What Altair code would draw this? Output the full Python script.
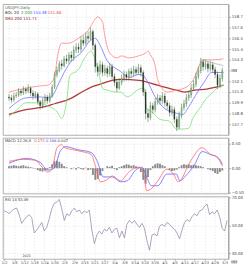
import altair as alt
import pandas as pd

# ---------------- data ----------------
closes = [150.4,150.2,150.6,150.7,151.1,150.9,151.3,151.1,151.4,150.9,
          150.6,150.8,150.0,149.6,150.1,150.5,150.1,150.6,151.5,152.8,
          153.2,153.9,153.7,154.4,154.2,154.8,154.5,155.3,155.6,155.4,
          156.3,156.0,156.7,156.5,157.2,155.8,153.6,153.1,153.8,153.0,
          153.4,152.9,153.6,152.6,152.0,151.4,152.0,152.4,152.8,152.5,
          153.1,152.9,153.3,153.0,153.5,153.0,151.0,148.8,148.4,149.6,
          149.2,150.0,150.4,150.1,150.6,149.9,149.6,148.9,149.2,148.2,
          147.4,148.6,149.4,149.8,150.4,150.7,151.4,151.8,152.6,153.2,
          154.1,153.6,153.9,153.4,153.8,153.3,152.8,151.7,152.4,153.2]
highs = [150.8,150.7,150.9,151.0,151.4,151.3,151.6,151.5,151.8,151.6,
         151.2,151.1,151.0,150.2,150.4,150.8,150.7,150.9,151.8,153.1,
         153.6,154.2,154.3,154.7,154.8,155.1,155.2,155.7,156.0,156.0,
         156.7,156.8,157.1,157.2,157.6,157.4,156.0,154.0,154.2,154.1,
         153.8,153.7,154.0,153.9,152.9,152.3,152.4,152.8,153.2,153.1,
         153.4,153.5,153.7,153.6,153.9,153.8,153.2,151.3,149.3,150.0,
         149.9,150.4,150.8,150.7,151.0,150.9,150.2,149.9,149.6,149.5,
         148.5,149.0,149.8,150.2,150.8,151.1,151.8,152.2,153.0,153.6,
         154.5,154.4,154.3,154.2,154.2,154.1,153.6,153.1,152.8,153.5]
lows = [150.1,149.9,150.0,150.4,150.5,150.6,150.7,150.8,150.9,150.6,
        150.2,150.3,149.7,149.2,149.3,149.8,149.8,149.9,150.4,151.3,
        152.5,153.0,153.3,153.5,153.9,153.9,154.1,154.2,155.0,155.0,
        155.1,155.7,155.8,156.1,156.3,155.3,153.0,152.6,152.8,152.6,
        152.7,152.5,152.6,152.3,151.6,151.0,151.2,151.7,152.1,152.2,
        152.2,152.5,152.6,152.7,152.8,152.6,150.6,148.2,147.9,148.1,
        148.8,148.9,149.7,149.7,149.8,149.5,149.2,148.5,148.6,147.8,
        147.0,147.2,148.3,149.1,149.5,150.1,150.4,151.1,151.5,152.3,
        152.9,153.2,153.3,153.0,153.1,153.0,152.4,151.3,151.4,152.1]
first_open = 150.5

upper_x = [0,12,16,19,20,22,25,27,30,33,34,36,37,39,40,42,45,47,50,54,57,58,59,61,62,66,70,74,77,80,81,85,89.5]
upper_v = [151.0,151.6,151.7,152.5,154.3,156.0,156.0,156.2,156.7,157.3,157.7,158.5,158.7,158.2,156.7,155.0,154.5,154.7,154.5,154.7,155.0,155.2,154.8,153.7,152.3,151.0,151.2,151.5,152.3,154.0,154.3,154.3,154.4]
mid_x = [0,7,13,17,21,23,26.5,30,34,36,38,41,44,46,50.5,54,56,57.5,61,65,69,72.5,75,78.7,81.4,84.5,89.5]
mid_v = [149.3,150.4,150.5,150.4,152.0,153.0,154.3,155.0,156.3,156.5,155.8,154.2,153.5,153.2,152.5,152.8,152.7,152.2,150.5,149.3,148.9,148.7,149.5,151.0,152.0,153.0,153.0]
lower_x = [0,3.4,7,11,15,17.7,20,22,24,25.4,29,31.6,34.3,35.4,37.4,39.3,41,45,46.6,49.3,54.3,56.3,57.4,59.4,63,67,70,72.5,75,76.7,79.5,82.2,85.2,87.2,89.5]
lower_v = [148.5,149.2,149.9,149.9,149.7,149.4,149.0,148.3,150.0,152.7,153.3,154.5,155.2,154.7,153.0,151.3,151.2,151.0,151.0,150.5,151.3,151.4,149.3,149.0,148.2,148.0,147.2,147.2,147.3,148.3,149.3,150.3,151.0,151.5,151.7]
sma_x = [0,7,15,19,25.4,30.4,34.3,38,43,46.6,54.3,62,69.8,73.7,77.5,82.5,89.5]
sma_v = [148.7,149.2,149.5,149.8,150.3,151.0,151.5,151.8,152.2,152.3,152.2,151.7,151.2,151.0,151.2,151.3,151.7]
trend_x = [80, 89.5]
trend_v = [154.3, 153.7]

macd_x = [0,6.1,11.1,13.8,16.1,17.7,18.8,20,21.9,23.4,26.5,30.4,34.3,36.2,38.1,40.8,43.1,46.6,49.3,51.6,
          54.3,56.3,57.4,59.4,62.1,65.9,68.6,70.6,72.5,74.4,76.7,80.6,84.1,86.4,89.1]
macd_v = [0.14,0.18,0.16,0.02,-0.08,-0.04,0.16,0.42,0.48,0.42,0.38,0.34,0.28,0.02,-0.28,-0.24,-0.16,-0.26,-0.12,-0.02,
          0.02,-0.12,-0.46,-0.42,-0.26,-0.02,-0.12,-0.28,-0.18,0.02,0.22,0.42,0.28,0.24,0.04]
signal_x = [0,7.2,13,16.1,18.8,21.5,23.8,28.5,34.3,37,39.3,43.1,46.6,49.3,52.8,55.5,57.4,59.4,62.1,65.9,
            69.8,71.3,73.7,77.5,80.6,84.1,87.2,89.1]
signal_v = [0.10,0.20,0.12,-0.04,0.0,0.36,0.44,0.38,0.32,0.12,-0.18,-0.18,-0.28,-0.26,-0.04,0.02,-0.18,-0.36,-0.36,-0.12,
            -0.12,-0.26,-0.16,0.08,0.34,0.28,0.22,0.08]
macd_hist = [0.04,0.05,0.06,0.05,0.04,0.05,0.06,0.04,0.03,0.02,0.01,-0.01,
             -0.04,-0.06,-0.07,-0.05,-0.03,
             0.02,0.08,0.14,0.15,0.13,0.09,
             0.04,0.02,0.0,-0.02,0.01,-0.03,0.02,-0.02,-0.03,0.01,-0.04,-0.03,
             -0.14,-0.24,-0.22,-0.15,
             -0.06,0.0,0.04,0.03,0.05,-0.02,-0.04,0.02,
             0.04,0.06,0.08,0.07,0.05,0.06,0.04,0.02,
             -0.08,-0.24,-0.32,-0.18,
             -0.04,0.04,0.08,0.1,0.09,0.06,0.04,
             0.0,-0.04,-0.06,-0.05,-0.03,
             0.02,0.06,0.08,0.07,0.08,0.06,0.07,
             0.06,0.05,0.04,0.02,0.0,-0.02,
             -0.04,-0.06,-0.1,-0.12,-0.08,-0.05]
rsi_vals = [60.4,59.7,58.3,60.4,61.7,62.4,57.6,51.4,54.1,56.2,
            57.6,55.5,44.5,46.6,49.3,52.1,45.9,48.6,54.8,61.7,
            65.9,66.6,68.6,61.7,53.5,58.3,56.9,60.4,62.4,59.7,
            61.0,58.3,60.4,59.0,61.0,46.6,36.9,43.1,45.9,43.8,
            47.2,45.9,48.6,44.5,47.2,47.9,41.0,45.9,41.0,50.7,
            53.5,51.4,53.5,50.7,48.6,51.4,47.9,39.0,32.1,43.1,
            43.8,42.4,49.3,50.7,49.3,52.1,50.7,48.6,47.2,44.5,
            40.3,46.6,52.1,54.1,52.8,56.2,58.3,56.9,60.4,61.0,
            63.8,65.2,57.6,59.7,58.3,61.0,56.2,47.9,45.9,53.5]

x_labels = ["1/2","1/8","1/12","1/18","1/24","1/30","2/5","2/9","2/15","2/21","2/27","3/4",
            "3/8","3/14","3/20","3/26","4/1","4/5","4/11","4/17","4/23","4/29","5/3"]
price_ticks = [158.7,157.6,156.5,155.4,154.3,153.2,152.1,151.0,149.9,148.8,147.7]
macd_ticks = [0.5, 0.0, -0.5]
rsi_ticks = [70, 50, 30]

# ---------------- frames ----------------
N = len(closes)
opens = [first_open] + closes[:-1]
bars = pd.DataFrame({"i": list(range(N)), "open": opens, "high": highs, "low": lows,
                     "close": closes, "hist": macd_hist, "rsi": rsi_vals})

def series(xs, vs):
    return pd.DataFrame({"i": xs, "v": vs})

W = 231
FONT = "DejaVu Sans"
xscale = alt.Scale(domain=[-0.5, N - 0.5], nice=False, zero=False)
xvals = list(range(0, N, 4))
xax_hidden = alt.Axis(labels=False, ticks=False, domain=False, title=None, grid=True, values=xvals)
lab_js = "[" + ",".join("'%s'" % s for s in x_labels) + "]"
xax_shown = alt.Axis(title=None, grid=True, values=xvals, domain=False,
                     labelExpr=lab_js + "[round(datum.value/4)]",
                     labelFontSize=3.6, tickSize=1.5, labelPadding=0.5, labelAngle=0,
                     labelOverlap=False, labelFlush=False)

def X(ax):
    return alt.X("i:Q", scale=xscale, axis=ax)

def text_layer(t, x, y, color, size=4.0, align="left"):
    return alt.Chart(pd.DataFrame({"t": [t]})).mark_text(
        align=align, baseline="middle", fontSize=size, font=FONT, color=color
    ).encode(text="t:N", x=alt.value(x), y=alt.value(y))

# ---------------- main panel ----------------
last_close = closes[-1]
pscale = alt.Scale(domain=[146.6, 160.0], nice=False, zero=False)
pax = alt.Axis(orient="right", values=price_ticks, title=None, grid=True,
               labelExpr="abs(datum.value - %s) < 0.3 ? '' : format(datum.value, '.1f')" % last_close)

def PY(field):
    return alt.Y(field, scale=pscale, axis=pax)

base = alt.Chart(bars)
wicks = base.mark_rule(strokeWidth=0.5, color="#3a5a3a").encode(X(xax_hidden), PY("low:Q"), y2="high:Q")
bodies = base.mark_bar(size=1.2, stroke="#3a5a3a", strokeWidth=0.25).encode(
    X(xax_hidden), PY("open:Q"), y2="close:Q",
    color=alt.condition("datum.close >= datum.open", alt.value("#8fd08f"), alt.value("#2a2a2a")))

def band(xs, vs, color, width=0.8):
    return alt.Chart(series(xs, vs)).mark_line(color=color, strokeWidth=width, interpolate="monotone").encode(
        X(xax_hidden), PY("v:Q"))

sma_line = band(sma_x, sma_v, "#b03a3a", 1.3)
upper_line = band(upper_x, upper_v, "#ff8080")
mid_line = band(mid_x, mid_v, "#7070ff")
lower_line = band(lower_x, lower_v, "#78e078")
trend_line = alt.Chart(series(trend_x, trend_v)).mark_line(color="#a0a0a0", strokeWidth=0.6).encode(
    X(xax_hidden), PY("v:Q"))

last = bars.tail(1)
pbox = alt.Chart(last).mark_point(shape="M-1,-0.5H1V0.5H-1Z", size=32, filled=True, opacity=1,
                                  color="#8a8a8a").encode(x=alt.value(W + 6), y=PY("close:Q"))
ptxt = alt.Chart(last).mark_text(fontSize=3.6, font=FONT, color="white", align="center", baseline="middle").encode(
    x=alt.value(W + 6), y=PY("close:Q"), text=alt.Text("close:Q", format=".1f"))

main = alt.layer(
    sma_line, upper_line, lower_line, mid_line, wicks, bodies, trend_line, pbox, ptxt,
    text_layer("USDJPY,Daily", 2, 4, "#4f6b4f"),
    text_layer("BOL 20", 2, 9.5, "#333333"),
    text_layer("2.000", 18.5, 9.5, "#2e9e2e"),
    text_layer("154.38", 31, 9.5, "#4a4aff"),
    text_layer("151.66", 46, 9.5, "#e03a3a"),
    text_layer("SMA 200  151.71", 2, 15, "#7a2020"),
).properties(width=W, height=134)

# ---------------- MACD panel ----------------
mscale = alt.Scale(domain=[-0.52, 0.62], nice=False, zero=False)
max_ = alt.Axis(orient="right", values=macd_ticks, format=".2f", title=None, grid=True)

def MY(field):
    return alt.Y(field, scale=mscale, axis=max_)

hist = base.mark_bar(size=1.9, color="#8a8a8a").encode(X(xax_hidden), MY("hist:Q"), y2=alt.datum(0))
macd_line = alt.Chart(series(macd_x, macd_v)).mark_line(color="#ff6060", strokeWidth=0.8, interpolate="monotone").encode(
    X(xax_hidden), MY("v:Q"))
sig_line = alt.Chart(series(signal_x, signal_v)).mark_line(color="#6060ff", strokeWidth=0.8, interpolate="monotone").encode(
    X(xax_hidden), MY("v:Q"))

macd = alt.layer(
    hist, sig_line, macd_line,
    text_layer("MACD 12,26,9", 2, 3.5, "#333333", 3.8),
    text_layer("0.173", 32, 3.5, "#e03a3a", 3.8),
    text_layer("0.166", 44, 3.5, "#4a4aff", 3.8),
    text_layer("0.007", 56, 3.5, "#333333", 3.8),
).properties(width=W, height=57)

# ---------------- RSI panel ----------------
rscale = alt.Scale(domain=[25.9, 70.7], nice=False, zero=False)
rax = alt.Axis(orient="right", values=rsi_ticks, format=".2f", title=None, grid=True)

rsi_line = base.mark_line(color="#9a88ad", strokeWidth=0.8).encode(
    X(xax_shown), alt.Y("rsi:Q", scale=rscale, axis=rax))
dbox = alt.Chart(pd.DataFrame({"t": ["5/5"]})).mark_point(
    shape="M-1,-0.5H1V0.5H-1Z", size=36, filled=True, opacity=1, color="#8a8a8a").encode(
    x=alt.value(W + 6), y=alt.value(67))
dtxt = text_layer("5/5", W + 6, 67, "white", 3.4, "center")

rsi = alt.layer(
    rsi_line, dbox, dtxt,
    text_layer("RSI 14  53.49", 2, 3.5, "#333333", 3.8),
    text_layer("2021", 20, 61, "#333333", 3.4),
).properties(width=W, height=64)

chart = alt.vconcat(main, macd, rsi, spacing=3, bounds="flush").properties(
    padding=0, background="white"
).configure_view(
    stroke="#9a9a9a", strokeWidth=0.8
).configure_axis(
    labelFontSize=4, labelColor="#444444", labelFont=FONT, tickColor="#aaaaaa",
    domainColor="#9a9a9a", gridColor="#d2d2d2", gridDash=[1, 2], gridWidth=0.6,
    tickSize=2, labelPadding=1
)

chart.save("out.html", embed_options={"renderer": "svg", "actions": False})
